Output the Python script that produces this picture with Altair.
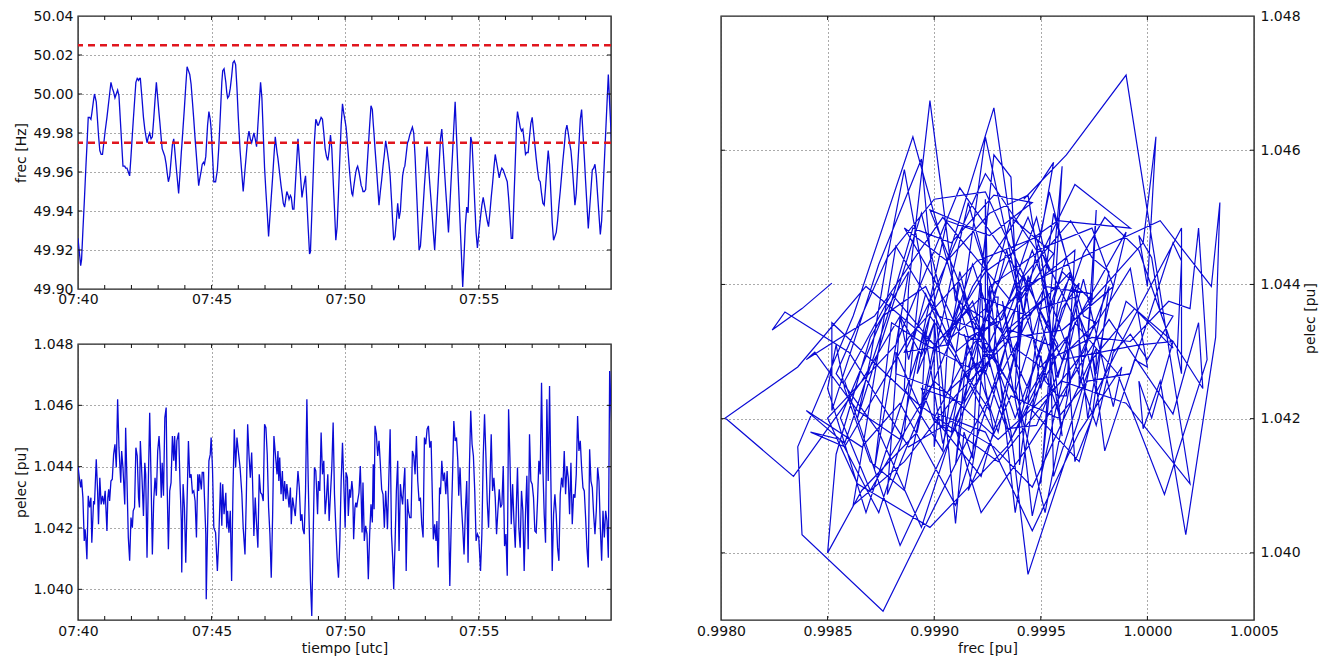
import json
import altair as alt
import pandas as pd

# ---------------- data ----------------
# seconds after 07:40:00 (utc)
t_sec = [
    0, 3, 6, 8, 11, 14, 16, 18, 20, 23,
    26, 29, 31, 35, 37, 41, 44, 46, 49, 52,
    55, 58, 61, 65, 67, 69, 71, 74, 77, 80,
    83, 86, 89, 92, 96, 98, 101, 105, 107, 110,
    113, 116, 119, 122, 124, 127, 130, 133, 136, 138,
    140, 144, 147, 150, 152, 155, 158, 161, 164, 167,
    170, 173, 176, 179, 182, 184, 187, 189, 192, 195,
    198, 200, 203, 206, 209, 212, 215, 217, 220, 222,
    226, 229, 232, 233, 236, 239, 242, 245, 248, 251,
    254, 257, 260, 263, 266, 269, 271, 273, 277, 279,
    282, 284, 287, 288, 291, 294, 297,
    299, 302, 305, 309, 313, 316, 320, 323, 325, 328,
    332, 334, 336, 339, 342, 345, 348, 351, 354, 357,
    360, 364, 368, 371, 375, 378, 381, 384, 387, 390,
    392, 395, 398, 401, 404, 407, 410, 413, 416, 419,
    422, 425, 428, 431, 434, 437, 440, 443, 447, 449,
    451, 453, 456, 459, 461, 464, 467, 469, 472, 474,
    477, 479, 482, 485, 488, 491, 494, 497, 500, 503,
    505, 508, 511, 514, 517, 520, 522, 525, 528, 531,
    534, 536, 538, 540, 543, 546, 549, 552, 555, 558,
    561, 564, 567, 570, 573, 576, 579, 582, 585, 588,
    591, 594, 597, 600,
    602, 605, 607, 610, 612, 615, 617, 619, 622, 624,
    626, 628, 631, 634, 636, 638, 640, 643, 646, 649,
    652, 655, 658, 661, 663, 665, 667, 670, 673, 676,
    679, 682, 685, 688, 691, 693, 695, 698, 701, 704,
    707, 709, 712, 715, 718, 721, 724, 726, 729, 732,
    734, 737, 740, 742, 745, 748, 751, 754, 757, 760,
    763, 766, 769, 772, 775, 778, 781, 784, 787, 790,
    793, 795, 798, 801, 804, 806, 809, 812, 814, 817,
    820, 823, 826, 829, 832, 835, 838, 841, 844, 847,
    850, 853, 855, 858, 861, 864, 867, 870, 873, 876,
    879, 882, 885, 888, 891, 894, 897, 900,
    904, 907, 910, 913, 916, 919, 922, 925, 928, 931,
    934, 937, 940, 943, 946, 949, 952, 955, 958, 961,
    964, 967, 970, 973, 976, 979, 982, 985, 987, 990,
    993, 996, 999, 1002, 1005, 1008, 1011, 1014, 1017, 1020,
    1023, 1026, 1029, 1032, 1035, 1038, 1041, 1044, 1047, 1050,
    1053, 1056, 1059, 1062, 1065, 1068, 1071, 1074, 1077, 1080,
    1083, 1086, 1089, 1092, 1095, 1098, 1101, 1104, 1107, 1110,
    1113, 1116, 1119, 1122, 1125, 1128, 1131, 1134, 1137, 1140,
    1143, 1146, 1149, 1152, 1155, 1158, 1161, 1164, 1167, 1170,
    1173, 1176, 1179, 1182, 1185, 1188, 1191, 1194, 1197, 1199,
]

# frequency [Hz]
frec_hz = [
    49.926, 49.919, 49.912, 49.915, 49.930, 49.944, 49.954, 49.964, 49.973, 49.988,
    49.988, 49.987, 49.990, 49.997, 50.000, 49.996, 49.986, 49.979, 49.971, 49.969,
    49.969, 49.975, 49.981, 49.988, 49.992, 49.996, 50.000, 50.006, 50.003, 50.001,
    49.998, 50.000, 50.002, 49.999, 49.983, 49.975, 49.963, 49.963, 49.962, 49.962,
    49.960, 49.958, 49.968, 49.979, 49.986, 49.996, 50.006, 50.008, 50.007, 50.008,
    50.008, 49.997, 49.988, 49.982, 49.979, 49.975, 49.978, 49.980, 49.977, 49.978,
    49.987, 49.997, 50.006, 49.998, 49.990, 49.985, 49.977, 49.972, 49.970, 49.968,
    49.964, 49.960, 49.955, 49.958, 49.966, 49.974, 49.977, 49.972, 49.964, 49.959,
    49.949, 49.959, 49.970, 49.973, 49.983, 49.993, 50.004, 50.014, 50.012, 50.010,
    50.005, 49.996, 49.987, 49.977, 49.968, 49.959, 49.953, 49.956, 49.961, 49.964,
    49.965, 49.964, 49.968, 49.972, 49.984, 49.991, 49.987,
    49.982, 49.969, 49.955, 49.955, 49.961, 49.972, 49.991, 50.006, 50.012, 50.013,
    50.006, 50.001, 49.998, 49.999, 50.003, 50.009, 50.016, 50.017, 50.015, 50.003,
    49.988, 49.971, 49.959, 49.950, 49.961, 49.969, 49.977, 49.981, 49.977, 49.975,
    49.977, 49.980, 49.977, 49.973, 49.984, 49.995, 50.006, 49.998, 49.980, 49.962,
    49.950, 49.939, 49.927, 49.937, 49.947, 49.957, 49.968, 49.978, 49.970, 49.967,
    49.963, 49.959, 49.953, 49.948, 49.944, 49.942, 49.947, 49.950, 49.948, 49.946,
    49.948, 49.947, 49.941, 49.941, 49.953, 49.965, 49.977, 49.967, 49.957, 49.947,
    49.950, 49.954, 49.958, 49.945, 49.931, 49.918, 49.919, 49.938, 49.957, 49.976,
    49.987, 49.986, 49.984, 49.984, 49.986, 49.988, 49.987, 49.980, 49.972, 49.968,
    49.966, 49.971, 49.979, 49.972, 49.956, 49.941, 49.925, 49.932, 49.949, 49.967,
    49.984, 49.995, 49.990, 49.986,
    49.983, 49.975, 49.969, 49.960, 49.955, 49.949, 49.948, 49.952, 49.957, 49.960,
    49.962, 49.963, 49.960, 49.956, 49.953, 49.952, 49.950, 49.950, 49.951, 49.962,
    49.973, 49.984, 49.994, 49.992, 49.985, 49.979, 49.972, 49.963, 49.953, 49.943,
    49.950, 49.956, 49.963, 49.969, 49.976, 49.973, 49.970, 49.965, 49.958, 49.946,
    49.933, 49.925, 49.927, 49.935, 49.944, 49.936, 49.940, 49.948, 49.958, 49.962,
    49.963, 49.969, 49.975, 49.976, 49.979, 49.981, 49.983, 49.980, 49.968, 49.952,
    49.936, 49.920, 49.922, 49.932, 49.942, 49.953, 49.963, 49.973, 49.964, 49.954,
    49.945, 49.939, 49.929, 49.920, 49.933, 49.942, 49.955, 49.968, 49.977, 49.982,
    49.972, 49.961, 49.950, 49.940, 49.929, 49.942, 49.956, 49.969, 49.983, 49.996,
    49.979, 49.962, 49.951, 49.934, 49.918, 49.901, 49.917, 49.933, 49.942, 49.939,
    49.959, 49.978, 49.975, 49.960, 49.944, 49.929, 49.921, 49.928,
    49.937, 49.943, 49.947, 49.943, 49.939, 49.935, 49.932, 49.939, 49.947, 49.954,
    49.962, 49.969, 49.965, 49.961, 49.957, 49.960, 49.962, 49.961, 49.959, 49.957,
    49.955, 49.947, 49.937, 49.926, 49.926, 49.946, 49.965, 49.985, 49.991, 49.987,
    49.983, 49.981, 49.982, 49.976, 49.969, 49.970, 49.970, 49.978, 49.985, 49.988,
    49.981, 49.974, 49.967, 49.961, 49.956, 49.955, 49.949, 49.944, 49.943, 49.952,
    49.962, 49.971, 49.964, 49.949, 49.934, 49.925, 49.927, 49.929, 49.935, 49.943,
    49.950, 49.958, 49.966, 49.973, 49.981, 49.984, 49.980, 49.975, 49.971, 49.963,
    49.953, 49.943, 49.949, 49.962, 49.974, 49.987, 49.992, 49.980, 49.968, 49.955,
    49.943, 49.931, 49.941, 49.951, 49.961, 49.962, 49.964, 49.958, 49.948, 49.938,
    49.928, 49.935, 49.950, 49.965, 49.980, 49.995, 50.010, 49.995, 49.981, 49.971,
]

# electrical power [pu]
pelec_pu = [
    1.04402, 1.04364, 1.04332, 1.04359, 1.04299, 1.04158, 1.04196, 1.04158, 1.04098, 1.04305,
    1.04267, 1.04299, 1.04152, 1.04288, 1.04277, 1.04424, 1.04321, 1.04212, 1.04364, 1.04277,
    1.04305, 1.04277, 1.04321, 1.04190, 1.04299, 1.04326, 1.04288, 1.04353, 1.04359, 1.04440,
    1.04473, 1.04397, 1.04620, 1.04462, 1.04348, 1.04451, 1.04397, 1.04277, 1.04527, 1.04353,
    1.04169, 1.04093, 1.04234, 1.04201, 1.04256, 1.04267, 1.04462, 1.04435, 1.04299, 1.04267,
    1.04484, 1.04353, 1.04239, 1.04413, 1.04375, 1.04103, 1.04353, 1.04576, 1.04364, 1.04114,
    1.04288, 1.04364, 1.04305, 1.04451, 1.04500, 1.04446, 1.04299, 1.04413, 1.04305, 1.04560,
    1.04593, 1.04353, 1.04131, 1.04321, 1.04348, 1.04500, 1.04419, 1.04500, 1.04386, 1.04484,
    1.04511, 1.04353, 1.04223, 1.04055, 1.04343, 1.04267, 1.04087, 1.04288, 1.04484, 1.04364,
    1.04375, 1.04315, 1.04321, 1.04288, 1.04169, 1.04375, 1.04321, 1.04375, 1.04326, 1.04381,
    1.04381, 1.04299, 1.04180, 1.03968, 1.04201, 1.04419, 1.04440,
    1.04495, 1.04397, 1.04201, 1.04185, 1.04060, 1.04158, 1.04348, 1.04207, 1.04343, 1.04245,
    1.04315, 1.04201, 1.04256, 1.04185, 1.04256, 1.04027, 1.04321, 1.04522, 1.04397, 1.04495,
    1.04451, 1.04397, 1.04310, 1.04201, 1.04114, 1.04299, 1.04538, 1.04440, 1.04364, 1.04446,
    1.04353, 1.04174, 1.04299, 1.04212, 1.04136, 1.04375, 1.04315, 1.04310, 1.04288, 1.04538,
    1.04527, 1.04440, 1.04267, 1.04180, 1.04038, 1.04234, 1.04500, 1.04446, 1.04375, 1.04451,
    1.04353, 1.04430, 1.04310, 1.04386, 1.04288, 1.04353, 1.04294, 1.04343, 1.04299, 1.04267,
    1.04332, 1.04212, 1.04299, 1.04267, 1.04239, 1.04310, 1.04386, 1.04332, 1.04223, 1.04245,
    1.04196, 1.04180, 1.04321, 1.04620, 1.04353, 1.04158, 1.04027, 1.03913, 1.04158, 1.04397,
    1.04386, 1.04321, 1.04245, 1.04353, 1.04321, 1.04511, 1.04375, 1.04419, 1.04245, 1.04299,
    1.04375, 1.04223, 1.04310, 1.04397, 1.04544, 1.04310, 1.04201, 1.04103, 1.04038, 1.04158,
    1.04353, 1.04478, 1.04343, 1.04201,
    1.04381, 1.04364, 1.04239, 1.04326, 1.04299, 1.04353, 1.04321, 1.04163, 1.04267, 1.04283,
    1.04267, 1.04288, 1.04315, 1.04402, 1.04299, 1.04185, 1.04348, 1.04158, 1.04207, 1.04180,
    1.04033, 1.04180, 1.04277, 1.04218, 1.04408, 1.04261, 1.04533, 1.04506, 1.04435, 1.04484,
    1.04408, 1.04326, 1.04310, 1.04201, 1.04321, 1.04267, 1.04196, 1.04359, 1.04522, 1.04180,
    1.04093, 1.04000, 1.04147, 1.04321, 1.04419, 1.04125, 1.04343, 1.04310, 1.04277, 1.04353,
    1.04397, 1.04060, 1.04294, 1.04256, 1.04234, 1.04234, 1.04451, 1.04435, 1.04375, 1.04500,
    1.04353, 1.04288, 1.04299, 1.04212, 1.04169, 1.04495, 1.04473, 1.04522, 1.04533, 1.04462,
    1.04484, 1.04353, 1.04163, 1.04212, 1.04158, 1.04223, 1.04071, 1.04332, 1.04310, 1.04419,
    1.04353, 1.04381, 1.04310, 1.04386, 1.04256, 1.04011, 1.04201, 1.04364, 1.04549, 1.04484,
    1.04495, 1.04419, 1.04305, 1.04397, 1.04277, 1.04201, 1.04114, 1.04256, 1.04353, 1.04087,
    1.04397, 1.04582, 1.04473, 1.04435, 1.04321, 1.04158, 1.04180, 1.04169,
    1.04060, 1.04180, 1.04430, 1.04571, 1.04440, 1.04288, 1.04201, 1.04343, 1.04506, 1.04321,
    1.04364, 1.04299, 1.04180, 1.04256, 1.04326, 1.04267, 1.04277, 1.04402, 1.04141, 1.04180,
    1.04044, 1.04587, 1.04430, 1.04212, 1.04343, 1.04223, 1.04136, 1.04299, 1.04397, 1.04201,
    1.04136, 1.04321, 1.04256, 1.04060, 1.04245, 1.04370, 1.04131, 1.04506, 1.04353, 1.04343,
    1.04299, 1.04190, 1.04185, 1.04288, 1.04419, 1.04375, 1.04674, 1.04397, 1.04245, 1.04152,
    1.04620, 1.04353, 1.04663, 1.04353, 1.04060, 1.04245, 1.04310, 1.04245, 1.04136, 1.04093,
    1.04310, 1.04364, 1.04332, 1.04451, 1.04310, 1.04402, 1.04364, 1.04245, 1.04413, 1.04212,
    1.04310, 1.04299, 1.04375, 1.04565, 1.04451, 1.04484, 1.04397, 1.04332, 1.04321, 1.04234,
    1.04136, 1.04071, 1.04457, 1.04353, 1.04332, 1.04245, 1.04180, 1.04256, 1.04397, 1.04353,
    1.04201, 1.04093, 1.04256, 1.04169, 1.04256, 1.04223, 1.04103, 1.04712, 1.04593, 1.04527,
]

time_ticks = [0, 300, 600, 900]
time_labels = ["07:40", "07:45", "07:50", "07:55"]
minute_ticks = [60, 120, 180, 240, 300, 360, 420, 480, 540, 600,
                660, 720, 780, 840, 900, 960, 1020, 1080, 1140]
time_domain = [0, 1197]
frec_limits = [49.975, 50.025]
frec_domain = [49.90, 50.04]
frec_ticks = [49.90, 49.92, 49.94, 49.96, 49.98, 50.00, 50.02, 50.04]
pelec_ticks = [1.040, 1.042, 1.044, 1.046, 1.048]
pelec_domain = [1.039, 1.048]
frecpu_ticks = [0.9980, 0.9985, 0.9990, 0.9995, 1.0000, 1.0005]
frecpu_domain = [0.9980, 1.0005]
f_nominal = 50.0

df = pd.DataFrame({"t": t_sec, "frec": frec_hz, "pelec": pelec_pu})

# ---------------- styling ----------------
FONT = "DejaVu Sans"
BLUE = "#0b0bd6"
INK = "#111111"
FS = 14
W = 533
H_TOP, H_BOT, H_RIGHT = 273, 276, 604
TICK = 4

ax = dict(
    grid=True, gridColor="#555555", gridDash=[1, 3], gridWidth=1,
    ticks=False, domain=False,
    labelFont=FONT, labelFontSize=FS, labelColor=INK,
    titleFont=FONT, titleFontSize=FS, titleFontWeight="normal", titleColor=INK,
    labelFlush=False, labelOverlap=False,
)
time_expr = f"{json.dumps(time_labels)}[indexof({json.dumps(time_ticks)}, datum.value)]"

time_scale = alt.Scale(domain=time_domain, nice=False, zero=False)
frec_scale = alt.Scale(domain=frec_domain, nice=False, zero=False)
pelec_scale = alt.Scale(domain=pelec_domain, nice=False, zero=False)
frecpu_scale = alt.Scale(domain=frecpu_domain, nice=False, zero=False)

ax_time_top = alt.Axis(values=time_ticks, labelExpr=time_expr, labelPadding=3,
                       title=None, **ax)
ax_time_bot = alt.Axis(values=time_ticks, labelExpr=time_expr, labelPadding=4,
                       title="tiempo [utc]", titlePadding=3, **ax)
left_y = dict(ax, labelPadding=5, minExtent=47, maxExtent=47, titlePadding=3)
ax_frec = alt.Axis(values=frec_ticks, format=".2f", title="frec [Hz]", **left_y)
ax_pelec_left = alt.Axis(values=pelec_ticks, format=".3f", title="pelec [pu]", **left_y)
ax_frecpu = alt.Axis(values=frecpu_ticks, format=".4f", title="frec [pu]",
                     labelPadding=4, titlePadding=3, **ax)
ax_pelec_right = alt.Axis(values=pelec_ticks, format=".3f", title="pelec [pu]", orient="right",
                          labelPadding=6, minExtent=44, maxExtent=44, titlePadding=5,
                          titleAngle=270, titleBaseline="top", **ax)


def x_ticks(values, scale, axis, height):
    d = pd.DataFrame({"v": values})
    base = alt.Chart(d).mark_rule(color=INK, strokeWidth=1)
    xx = alt.X("v:Q", scale=scale, axis=axis)
    return [base.encode(x=xx, y=alt.value(0), y2=alt.value(TICK)),
            base.encode(x=xx, y=alt.value(height - TICK), y2=alt.value(height))]


def y_ticks(values, scale, axis, width):
    d = pd.DataFrame({"v": values})
    base = alt.Chart(d).mark_rule(color=INK, strokeWidth=1)
    yy = alt.Y("v:Q", scale=scale, axis=axis)
    return [base.encode(y=yy, x=alt.value(0), x2=alt.value(TICK)),
            base.encode(y=yy, x=alt.value(width - TICK), x2=alt.value(width))]


# ---- top: frequency ----
top_line = alt.Chart(df).mark_line(color=BLUE, strokeWidth=1.3, clip=True).encode(
    x=alt.X("t:Q", scale=time_scale, axis=ax_time_top),
    y=alt.Y("frec:Q", scale=frec_scale, axis=ax_frec),
    order="t:Q",
)
limits = alt.Chart(pd.DataFrame({"lim": frec_limits})).mark_rule(
    color="#e0161e", strokeWidth=2.6, strokeDash=[7, 5]
).encode(y=alt.Y("lim:Q", scale=frec_scale, axis=ax_frec))
top = alt.layer(
    top_line, limits,
    *x_ticks(minute_ticks, time_scale, ax_time_top, H_TOP),
    *y_ticks(frec_ticks[1:-1], frec_scale, ax_frec, W),
).properties(width=W, height=H_TOP)

# ---- bottom: electrical power ----
bottom_line = alt.Chart(df).mark_line(color=BLUE, strokeWidth=1.3, clip=True).encode(
    x=alt.X("t:Q", scale=time_scale, axis=ax_time_bot),
    y=alt.Y("pelec:Q", scale=pelec_scale, axis=ax_pelec_left),
    order="t:Q",
)
bottom = alt.layer(
    bottom_line,
    *x_ticks(minute_ticks, time_scale, ax_time_bot, H_BOT),
    *y_ticks(pelec_ticks[:-1], pelec_scale, ax_pelec_left, W),
).properties(width=W, height=H_BOT)

# ---- right: pelec vs frec (pu) ----
right_line = alt.Chart(df).transform_calculate(
    frec_pu=f"datum.frec / {f_nominal}"
).mark_line(color=BLUE, strokeWidth=1.2, clip=True).encode(
    x=alt.X("frec_pu:Q", scale=frecpu_scale, axis=ax_frecpu),
    y=alt.Y("pelec:Q", scale=pelec_scale, axis=ax_pelec_right),
    order="t:Q",
)
right = alt.layer(
    right_line,
    *x_ticks(frecpu_ticks[1:-1], frecpu_scale, ax_frecpu, H_RIGHT),
    *y_ticks(pelec_ticks[:-1], pelec_scale, ax_pelec_right, W),
).properties(width=W, height=H_RIGHT)

left = alt.vconcat(top, bottom, spacing=55, bounds="flush")
chart = alt.hconcat(left, right, spacing=82).properties(
    padding={"left": 5, "top": 0, "right": 5, "bottom": 0}
).configure(
    background="white",
    view=alt.ViewConfig(stroke="#222222", strokeWidth=1.4),
)

chart.save("out.html", embed_options={"renderer": "svg", "actions": False})
